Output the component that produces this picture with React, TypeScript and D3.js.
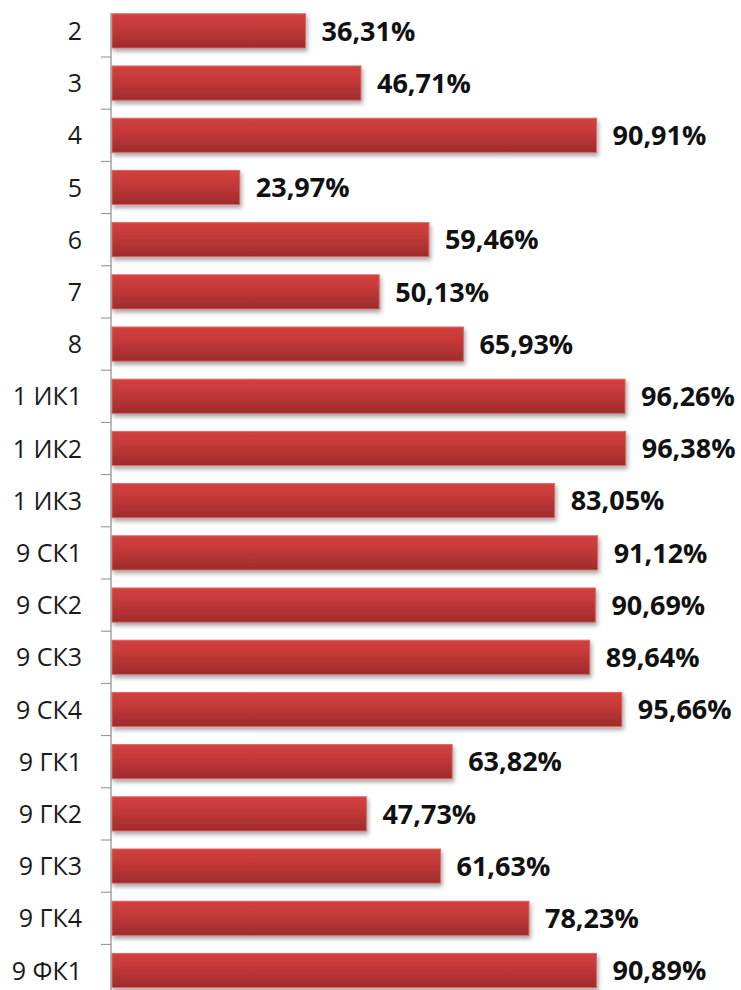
import React from "react";
import * as d3 from "d3";

const categories = ["2", "3", "4", "5", "6", "7", "8", "1 ИК1", "1 ИК2", "1 ИК3", "9 СК1", "9 СК2", "9 СК3", "9 СК4", "9 ГК1", "9 ГК2", "9 ГК3", "9 ГК4", "9 ФК1"];
const values = [36.31, 46.71, 90.91, 23.97, 59.46, 50.13, 65.93, 96.26, 96.38, 83.05, 91.12, 90.69, 89.64, 95.66, 63.82, 47.73, 61.63, 78.23, 90.89];

const W = 741;
const H = 990;
const STEP = 52.2;
const Y0 = 4.8;
const X0 = 112;

export default function App() {
  const x = d3.scaleLinear().domain([0, 100]).range([X0, X0 + 533]);
  const y = d3
    .scaleBand<string>()
    .domain(categories)
    .range([Y0, Y0 + categories.length * STEP])
    .paddingInner(0.345)
    .paddingOuter(0.1725);
  const bw = y.bandwidth();
  const fmt = (v: number) => v.toFixed(2).replace(".", ",") + "%";

  return (
    <div style={{ position: "absolute", left: 0, top: 0, width: W, height: H, background: "#fff" }}>
      <svg width={W} height={H} style={{ display: "block" }}>
        <defs>
          <linearGradient id="barGrad" x1="0" y1="0" x2="0" y2="1">
            <stop offset="0" stopColor="#d2403f" />
            <stop offset="0.35" stopColor="#c73a39" />
            <stop offset="1" stopColor="#9e2b2b" />
          </linearGradient>
          <filter id="shadow" x="-5%" y="-30%" width="115%" height="170%">
            <feDropShadow dx="1.5" dy="3" stdDeviation="2" floodColor="#000" floodOpacity="0.35" />
          </filter>
        </defs>
        {categories.map((c, i) => {
          const tickY = (y(c) as number) + bw / 2 + y.step() / 2;
          return i < categories.length - 1 ? (
            <line key={"t" + c} x1={X0 - 11} x2={X0 - 1} y1={tickY} y2={tickY} stroke="#8c8c8c" strokeWidth={1} />
          ) : null;
        })}
        {categories.map((c, i) => (
          <rect
            key={"b" + c}
            x={x(0)}
            y={y(c) as number}
            width={x(values[i]) - x(0)}
            height={bw}
            fill="url(#barGrad)"
            stroke="#d86a68"
            strokeWidth={1}
            filter="url(#shadow)"
          />
        ))}
        <line x1={X0 - 1} x2={X0 - 1} y1={13} y2={H} stroke="#8c8c8c" strokeWidth={1.2} />
        {categories.map((c) => (
          <text
            key={"l" + c}
            x={82}
            y={(y(c) as number) + bw / 2}
            dy="0.36em"
            textAnchor="end"
            fontFamily="'Open Sans', sans-serif"
            fontSize={25}
            fill="#1a1a1a"
          >
            {c}
          </text>
        ))}
        {categories.map((c, i) => (
          <text
            key={"v" + c}
            x={x(values[i]) + 16}
            y={(y(c) as number) + bw / 2}
            dy="0.36em"
            fontFamily="'Open Sans', sans-serif"
            fontWeight="bold"
            fontSize={27}
            fill="#111"
          >
            {fmt(values[i])}
          </text>
        ))}
      </svg>
    </div>
  );
}
